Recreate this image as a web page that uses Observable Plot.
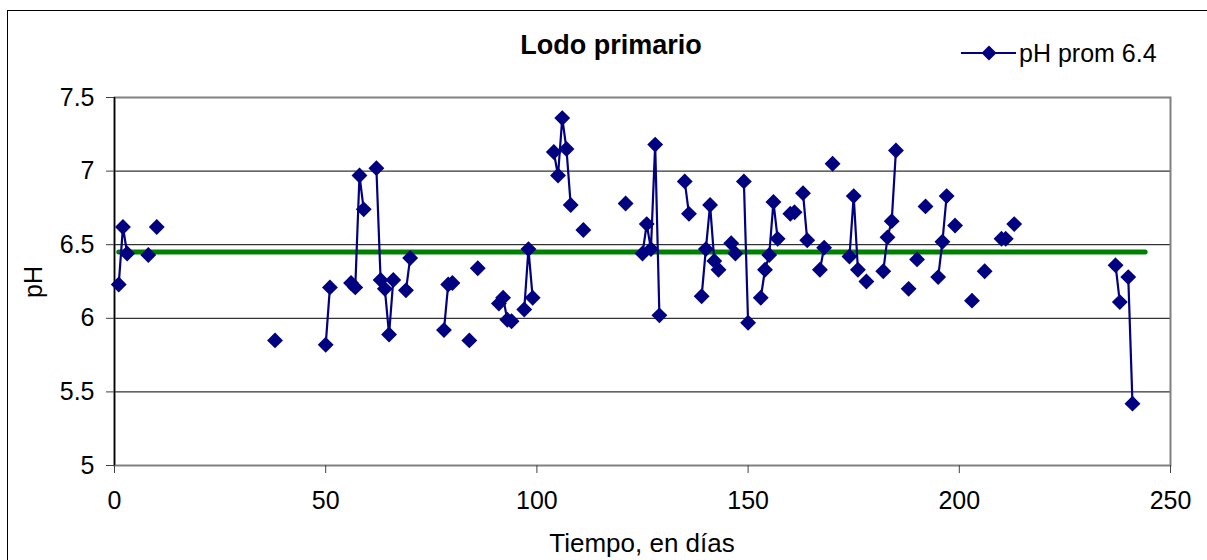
<!DOCTYPE html>
<html>
<head>
<meta charset="utf-8">
<script src="https://cdn.jsdelivr.net/npm/d3@7"></script>
<script src="https://cdn.jsdelivr.net/npm/@observablehq/plot@0.6"></script>
<style>
  html, body { margin: 0; padding: 0; background: #fff; overflow: hidden; }
  #chart { position: relative; width: 1207px; height: 560px; font-family: "Liberation Sans", Arial, sans-serif; color: #000; }
  #chart svg.plot { position: absolute; left: 0; top: 0; }
  .marco { position: absolute; left: 7px; top: 10px; width: 1240px; height: 600px; border: 1px solid #000; box-sizing: border-box; pointer-events: none; }
  .titulo { position: absolute; left: 611px; top: 32px; transform: translateX(-50%); font-size: 27px; font-weight: bold; line-height: 27px; white-space: nowrap; }
  .leyenda { position: absolute; left: 958px; top: 38px; height: 30px; display: flex; align-items: center; white-space: nowrap; font-size: 25px; line-height: 25px; }
  .leyenda svg { margin-right: 3px; }
  .eje-x { position: absolute; left: 642px; top: 530px; transform: translateX(-50%); font-size: 26px; line-height: 26px; white-space: nowrap; }
  .eje-y { position: absolute; left: 33px; top: 282px; transform: translate(-50%, -50%) rotate(-90deg); font-size: 25px; line-height: 25px; white-space: nowrap; }
</style>
</head>
<body>
<div id="chart"></div>
<script>
// Mediciones diarias de pH del lodo primario (null = día sin lectura, corta la línea)
const dias = [
  1, 2, 3, 4,
  8, 9,
  10, 11,
  38, 39,
  50, 51, 52,
  56, 57, 58, 59, 60,
  62, 63, 64, 65, 66, 67,
  69, 70, 71,
  78, 79, 80, 81,
  84, 85,
  86, 87,
  91, 92, 93, 94, 95,
  97, 98, 99, 100,
  104, 105, 106, 107, 108, 109,
  111, 112,
  121, 122,
  125, 126, 127, 128, 129, 130,
  135, 136, 137,
  139, 140, 141, 142, 143, 144,
  146, 147, 148,
  149, 150, 151,
  153, 154, 155, 156, 157, 158,
  160, 161, 162,
  163, 164, 165,
  167, 168, 169,
  170, 171,
  174, 175, 176, 177,
  178, 179,
  182, 183, 184, 185, 186,
  188, 189,
  190, 191,
  192, 193,
  195, 196, 197, 198,
  199, 200,
  203, 204,
  206, 207,
  210, 211, 212,
  213, 214,
  237, 238, 239,
  240, 241
];
const ph = [
  6.23, 6.62, 6.44, null,
  6.43, null,
  6.62, null,
  5.85, null,
  5.82, 6.21, null,
  6.24, 6.21, 6.97, 6.74, null,
  7.02, 6.26, 6.20, 5.89, 6.26, null,
  6.19, 6.41, null,
  5.92, 6.23, 6.24, null,
  5.85, null,
  6.34, null,
  6.10, 6.14, 5.99, 5.98, null,
  6.06, 6.47, 6.14, null,
  7.13, 6.97, 7.36, 7.15, 6.77, null,
  6.60, null,
  6.78, null,
  6.44, 6.64, 6.47, 7.18, 6.02, null,
  6.93, 6.71, null,
  6.15, 6.47, 6.77, 6.39, 6.33, null,
  6.51, 6.44, null,
  6.93, 5.97, null,
  6.14, 6.33, 6.43, 6.79, 6.54, null,
  6.71, 6.72, null,
  6.85, 6.53, null,
  6.33, 6.48, null,
  7.05, null,
  6.42, 6.83, 6.33, null,
  6.25, null,
  6.32, 6.55, 6.66, 7.14, null,
  6.20, null,
  6.40, null,
  6.76, null,
  6.28, 6.52, 6.83, null,
  6.63, null,
  6.12, null,
  6.32, null,
  6.54, 6.54, null,
  6.64, null,
  6.36, 6.11, null,
  6.28, 5.42
];

// Línea del promedio
const promedioDias = [1, 244];
const promedioPh = [6.45, 6.45];

// Ejes
const ticksX = [0, 50, 100, 150, 200, 250];
const ticksY = [5, 5.5, 6, 6.5, 7, 7.5];
const rejillaY = [5.5, 6, 6.5, 7];

const titulo = "Lodo primario";
const etiquetaSerie = "pH prom 6.4";
const tituloX = "Tiempo, en días";
const tituloY = "pH";

const AZUL = "#000080";
const VERDE = "#008000";

const serie = dias.map((d, i) => ({dia: d, ph: ph[i]}));
const promedio = promedioDias.map((d, i) => ({dia: d, ph: promedioPh[i]}));

const plot = Plot.plot({
  width: 1207,
  height: 560,
  marginLeft: 114,
  marginRight: 37,
  marginTop: 97,
  marginBottom: 95,
  x: {domain: [0, 250]},
  y: {domain: [5, 7.5]},
  style: {fontFamily: '"Liberation Sans", Arial, sans-serif', fontSize: "25px", color: "#000", background: "transparent", overflow: "visible"},
  marks: [
    Plot.ruleY(rejillaY, {stroke: "#000", strokeWidth: 1}),
    Plot.frame({stroke: "#808080", strokeWidth: 2}),
    Plot.ruleX([0], {stroke: "#000", strokeWidth: 1.5}),
    Plot.axisY(ticksY, {tickSize: 8, tickPadding: 12, tickFormat: d => String(d), label: null, stroke: "#404040"}),
    Plot.axisX(ticksX, {tickSize: 8, tickPadding: 18, tickFormat: d => String(d), label: null, stroke: "#404040"}),
    Plot.line(promedio, {x: "dia", y: "ph", stroke: VERDE, strokeWidth: 5}),
    Plot.line(serie, {x: "dia", y: "ph", stroke: AZUL, strokeWidth: 2.2}),
    Plot.dot(serie, {x: "dia", y: "ph", symbol: "diamond2", r: 6.2, fill: AZUL, stroke: AZUL, strokeWidth: 1.5})
  ]
});
plot.classList.add("plot");

const chart = document.getElementById("chart");
chart.appendChild(plot);

const add = (cls, text) => {
  const el = document.createElement("div");
  el.className = cls;
  el.textContent = text;
  chart.appendChild(el);
  return el;
};
add("titulo", titulo);
add("eje-x", tituloX);
add("eje-y", tituloY);

// Leyenda: trazo con marcador rombo y texto
const ley = document.createElement("div");
ley.className = "leyenda";
ley.innerHTML = `<svg width="58" height="18" viewBox="0 0 58 18">
  <line x1="3" y1="9" x2="58" y2="9" stroke="${AZUL}" stroke-width="2.2"/>
  <path d="M31,1.5 L38.5,9 L31,16.5 L23.5,9 Z" fill="${AZUL}"/>
</svg><span>${etiquetaSerie}</span>`;
chart.appendChild(ley);

const marco = document.createElement("div");
marco.className = "marco";
chart.appendChild(marco);
</script>
</body>
</html>
